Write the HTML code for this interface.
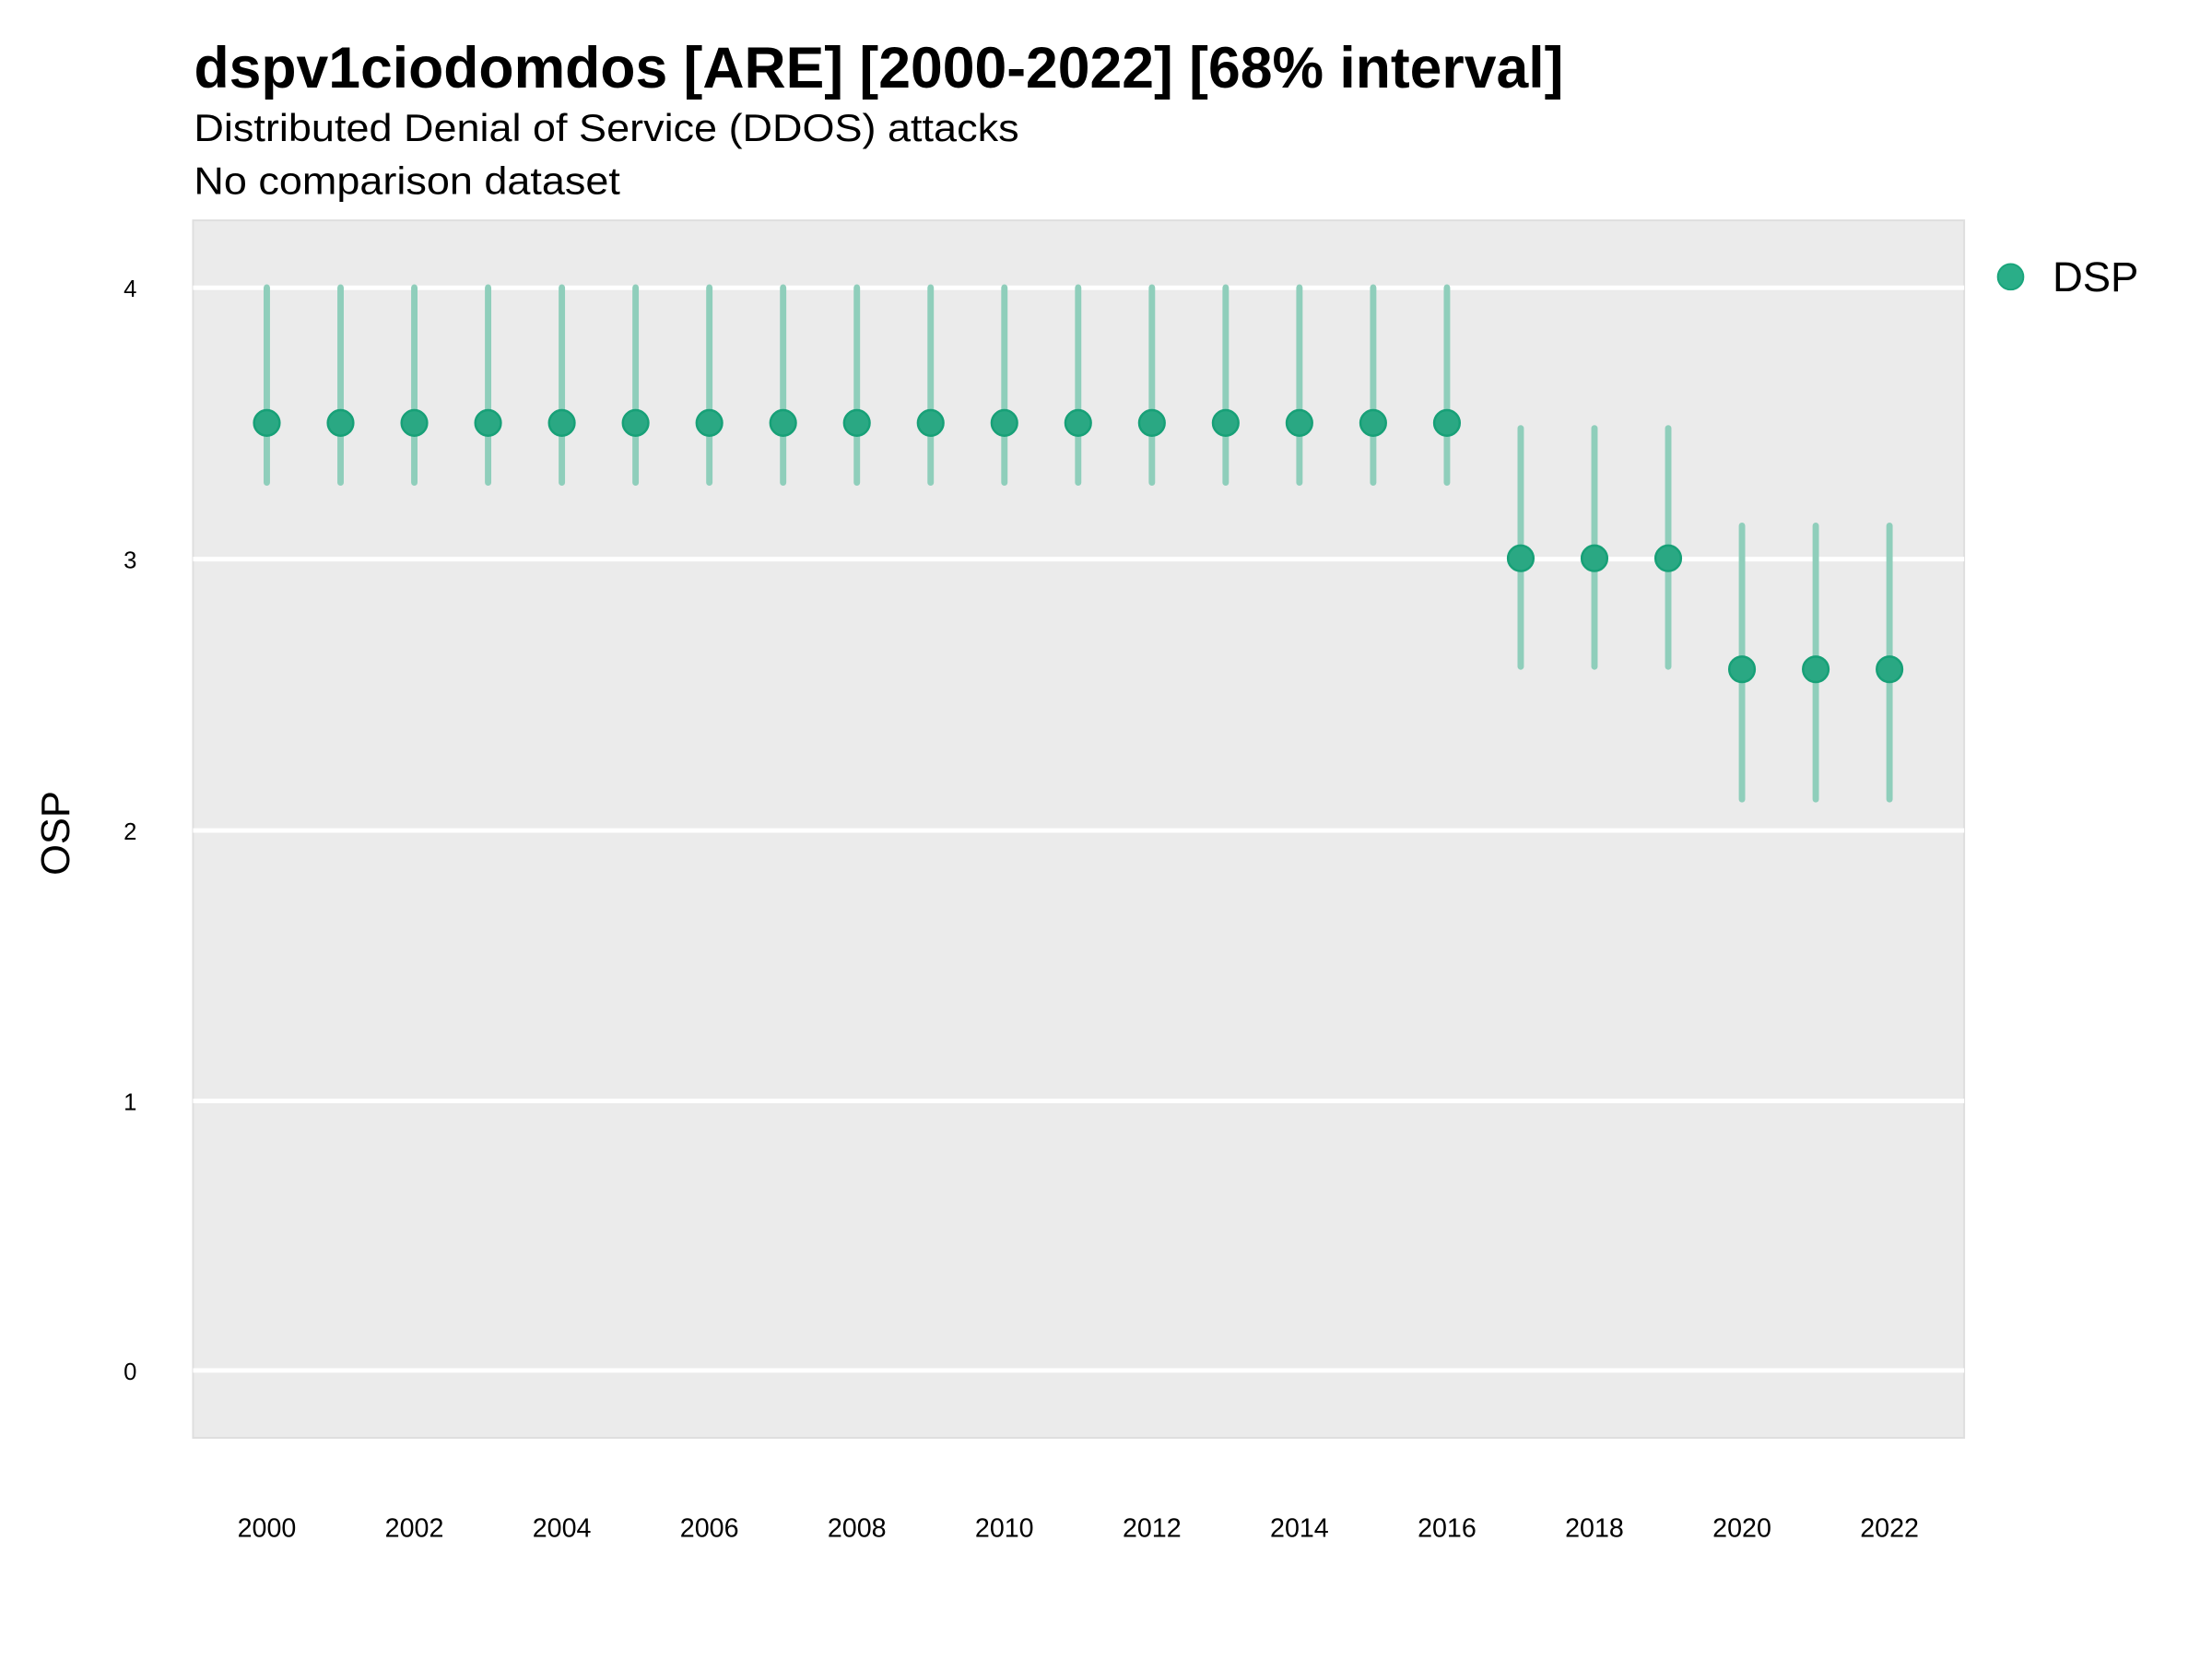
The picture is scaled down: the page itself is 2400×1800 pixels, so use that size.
<!DOCTYPE html>
<html><head><meta charset="utf-8"><style>html,body{margin:0;padding:0;background:#fff}svg{display:block}</style></head>
<body>
<svg width="2400" height="1800" viewBox="0 0 2400 1800" xmlns="http://www.w3.org/2000/svg" font-family="Liberation Sans, Arial, sans-serif">
<rect width="2400" height="1800" fill="#fff"/>
<g transform="scale(0.988)">
<text x="213" y="96" font-size="64" font-weight="bold" textLength="1504" lengthAdjust="spacingAndGlyphs">dspv1ciodomdos [ARE] [2000-2022] [68% interval]</text>
<text x="213" y="155" font-size="42" textLength="906" lengthAdjust="spacingAndGlyphs">Distributed Denial of Service (DDOS) attacks</text>
<text x="213" y="213" font-size="42" textLength="468" lengthAdjust="spacingAndGlyphs">No comparison dataset</text>
<rect x="212" y="242" width="1945" height="1337" fill="#ebebeb" stroke="#dedede" stroke-width="2"/>
<g stroke="#fff" stroke-width="5">
<line x1="212" x2="2157" y1="316" y2="316"/>
<line x1="212" x2="2157" y1="614" y2="614"/>
<line x1="212" x2="2157" y1="912" y2="912"/>
<line x1="212" x2="2157" y1="1209" y2="1209"/>
<line x1="212" x2="2157" y1="1505" y2="1505"/>
</g>
<g font-size="26" text-anchor="middle">
<text x="143" y="326">4</text><text x="143" y="624">3</text><text x="143" y="922">2</text><text x="143" y="1219">1</text><text x="143" y="1515">0</text>
</g>
<text transform="translate(76,915) rotate(-90)" font-size="44" text-anchor="middle">OSP</text>
<g font-size="29" text-anchor="middle" id="xl"></g>
<g id="pts"></g>
<g transform="translate(2208,304)"><circle r="14" fill="#2aae88" stroke="#1aa57c" stroke-width="2"/></g>
<text x="2254" y="320" font-size="46">DSP</text>
</g>
<script>
var ns="http://www.w3.org/2000/svg";
function y(v){return 1505-297.3*v;}
function X(i){return 293+81*i;}
var xl=document.getElementById('xl'),p=document.getElementById('pts');
for(var i=0;i<=22;i+=2){var t=document.createElementNS(ns,'text');t.setAttribute('x',X(i));t.setAttribute('y',1688);t.textContent=2000+i;xl.appendChild(t);}
for(var i=0;i<=22;i++){
 var v,lo,hi;
 if(i<=16){v=3.5;lo=3.28;hi=4.0;}else if(i<=19){v=3.0;lo=2.6;hi=3.48;}else{v=2.59;lo=2.11;hi=3.12;}
 var l=document.createElementNS(ns,'line');
 l.setAttribute('x1',X(i));l.setAttribute('x2',X(i));l.setAttribute('y1',y(hi));l.setAttribute('y2',y(lo));
 l.setAttribute('stroke','#8fcebb');l.setAttribute('stroke-width','7');l.setAttribute('stroke-linecap','round');p.appendChild(l);
 var c=document.createElementNS(ns,'circle');c.setAttribute('cx',X(i));c.setAttribute('cy',y(v));c.setAttribute('r','14');
 c.setAttribute('fill','#2aa883');c.setAttribute('stroke','#17a077');c.setAttribute('stroke-width','2.5');p.appendChild(c);
}
</script>
</svg>
</body></html>
